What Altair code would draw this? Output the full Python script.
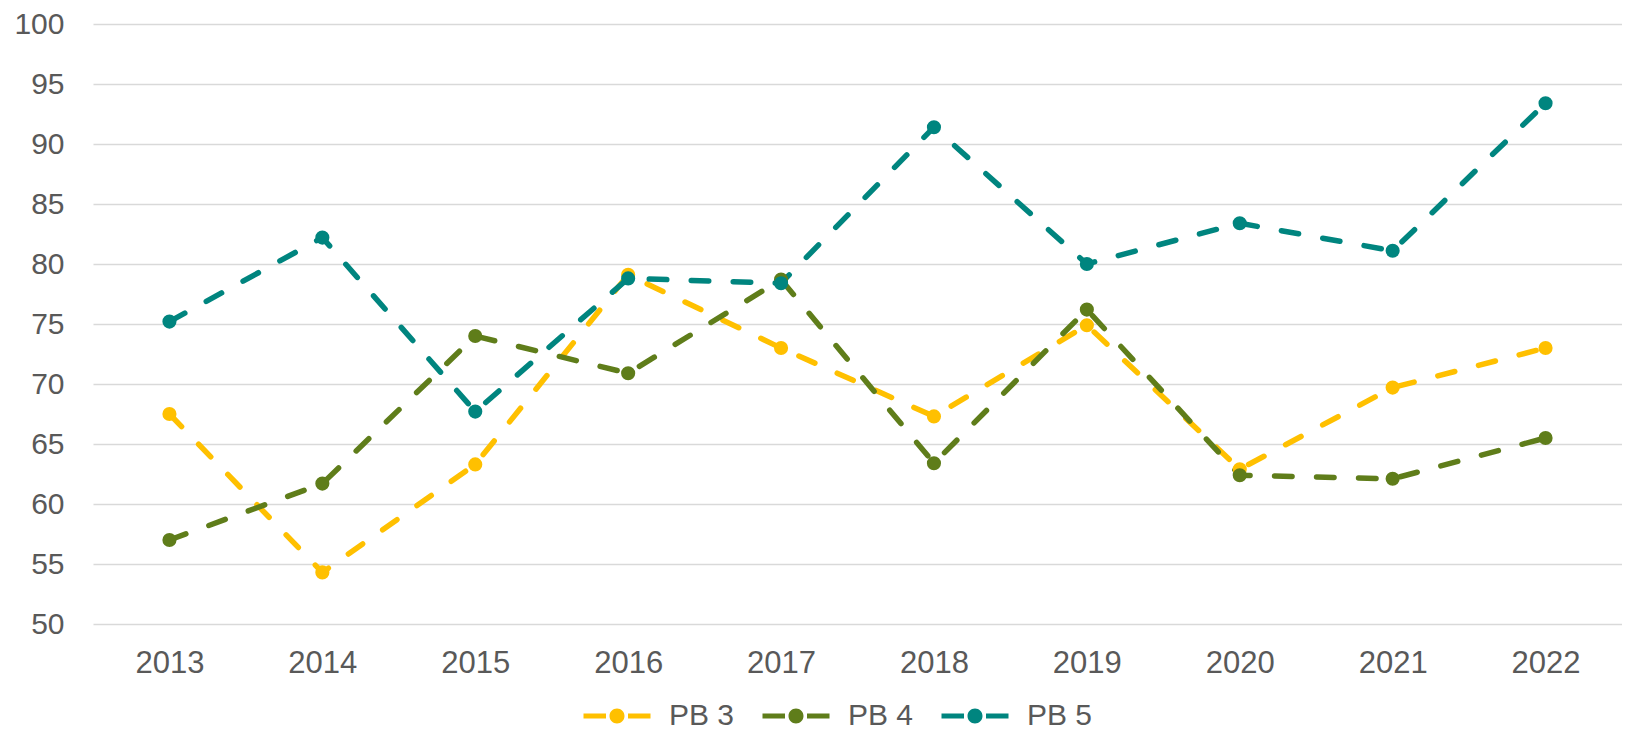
import altair as alt
import pandas as pd

years = ["2013", "2014", "2015", "2016", "2017", "2018", "2019", "2020", "2021", "2022"]
series_names = ["PB 3", "PB 4", "PB 5"]
pb3 = [67.5, 54.3, 63.3, 79.1, 73.0, 67.3, 74.9, 62.9, 69.7, 73.0]
pb4 = [57.0, 61.7, 74.0, 70.9, 78.7, 63.4, 76.2, 62.4, 62.1, 65.5]
pb5 = [75.2, 82.2, 67.7, 78.8, 78.4, 91.4, 80.0, 83.4, 81.1, 93.4]
colors = ["#FFC000", "#5F7D1A", "#00857F"]
y_ticks = [50, 55, 60, 65, 70, 75, 80, 85, 90, 95, 100]

rows = []
for name, vals in zip(series_names, [pb3, pb4, pb5]):
    for yr, v in zip(years, vals):
        rows.append({"year": yr, "series": name, "value": v})
df = pd.DataFrame(rows)

FONT = "Liberation Sans"
GREY = "#595959"

color_scale = alt.Scale(domain=series_names, range=colors)

legend_path = ("M-3.35,-0.25L-1.1,-0.25L-1.1,0.25L-3.35,0.25Z "
               "M1.1,-0.25L3.35,-0.25L3.35,0.25L1.1,0.25Z "
               "M-0.75,0A0.75,0.75 0 1,0 0.75,0A0.75,0.75 0 1,0 -0.75,0Z")

legend = alt.Legend(title=None, orient="none", direction="horizontal",
                    legendX=509, legendY=677, padding=0,
                    symbolType=legend_path, symbolSize=400,
                    symbolStrokeWidth=0, symbolOpacity=1, symbolDash=[1, 0],
                    labelFontSize=30, labelColor=GREY, labelFont=FONT,
                    labelOffset=37, columnPadding=27)

x_enc = alt.X("year:N", sort=years,
              scale=alt.Scale(paddingInner=0, paddingOuter=0.5),
              axis=alt.Axis(title=None, labelAngle=0, domain=False, ticks=False,
                            grid=False, labelFontSize=31, labelColor=GREY,
                            labelFont=FONT, labelPadding=24))
y_enc = alt.Y("value:Q", scale=alt.Scale(domain=[50, 100], nice=False, zero=False),
              axis=alt.Axis(title=None, values=y_ticks, domain=False, ticks=False,
                            grid=True, gridColor="#D9D9D9", gridWidth=1.5,
                            labelFontSize=30, labelColor=GREY, labelFont=FONT,
                            labelPadding=29))

lines = alt.Chart(df).mark_line(strokeWidth=5.5, strokeDash=[17.5, 24.5],
                                strokeCap="round").encode(
    x=x_enc, y=y_enc,
    color=alt.Color("series:N", scale=color_scale, legend=legend),
    detail="series:N",
)

points = alt.Chart(df).mark_point(filled=True, size=200, opacity=1, shape="circle").encode(
    x=x_enc, y=y_enc,
    color=alt.Color("series:N", scale=color_scale, legend=legend),
    order=alt.Order("series:N"),
)

chart = alt.layer(lines, points).properties(
    width=1529, height=600,
    autosize=alt.AutoSizeParams(type="none"),
    padding={"left": 85, "top": 16, "right": 0, "bottom": 104},
).configure_view(stroke=None)

chart.save("out.html", embed_options={"renderer": "svg", "actions": False})
